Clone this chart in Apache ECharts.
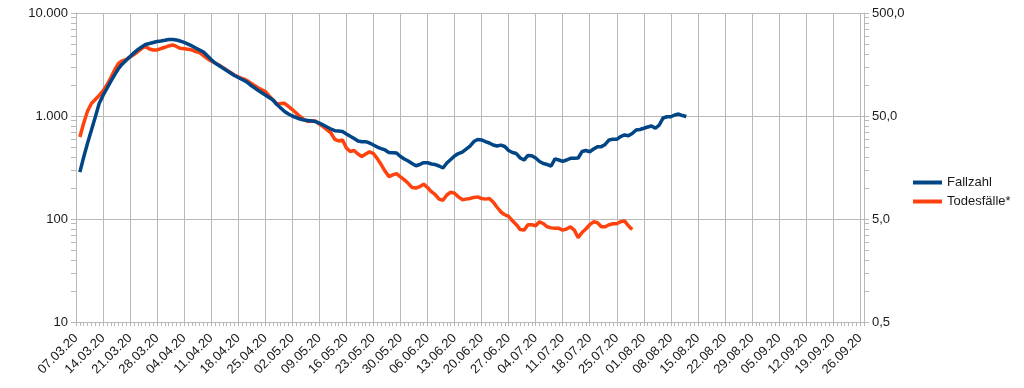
<!DOCTYPE html>
<html><head><meta charset="utf-8">
<script src="https://cdn.jsdelivr.net/npm/echarts@6/dist/echarts.min.js"></script>
<style>html,body{margin:0;padding:0;background:#fff}#c{width:1024px;height:388px}</style>
</head><body><div id="c"></div>
<script>
// Category axis: daily dates 07.03.20 .. 27.09.20
const dayCount = 205;
const categories = [];
for (let i = 0; i < dayCount; i++) {
  const d = new Date(Date.UTC(2020, 2, 7 + i));
  const dd = String(d.getUTCDate()).padStart(2, '0');
  const mm = String(d.getUTCMonth() + 1).padStart(2, '0');
  categories.push(dd + '.' + mm + '.20');
}

const seriesNames = ['Fallzahl', 'Todesfälle*'];

// Fallzahl (left axis), daily from 08.03.20
const casesStart = '08.03.20';
const fallzahl = [
  285,400,547,731,978,1322,1585,1849,2163,2506,
  2885,3198,3483,3784,4100,4405,4677,4946,5058,5175,
  5285,5346,5433,5534,5534,5470,5346,5175,4977,4786,
  4571,4375,4180,3837,3530,3270,3092,2924,2766,2614,
  2472,2365,2261,2163,2023,1904,1788,1691,1599,1512,
  1430,1293,1196,1106,1045,1000,967,935,914,904,
  894,884,855,818,782,748,720,715,707,669,
  635,605,572,563,563,547,523,500,483,468,
  442,440,437,404,383,366,346,329,338,352,
  352,342,338,327,313,350,378,409,432,447,
  478,511,565,591,585,565,547,523,511,521,
  506,462,442,432,391,374,414,411,391,362,
  346,338,327,383,374,362,374,388,388,391,
  452,462,450,478,504,504,529,585,594,594,
  632,654,642,676,731,739,760,782,800,760,
  818,957,984,984,1023,1045,1011,989
];

// Todesfälle* (right axis), daily from 08.03.20
const deathsStart = '08.03.20';
const todesfaelle = [
  31.3,42.8,55.9,66.1,72.3,79.1,87.5,100,117.5,139.8,
  161.7,171.8,176.9,187.0,197.7,211.4,226.0,236.5,223.5,218.8,
  218.8,226.0,232.3,239.3,244.6,236.5,227.0,224.9,222.8,218.8,
  211.4,205.9,193.3,180.8,171.0,163.5,156.4,147.8,139.8,132.2,
  125.0,120.2,115.6,111.9,105.8,100,94.6,90.4,86.5,78.2,
  71.5,65.4,66.1,66.4,61.9,57.8,53.5,49.5,46.2,44.2,
  44.7,44.7,41.8,39.4,36.6,34.2,29.6,28.6,29.2,24.5,
  22.6,23.1,21.4,20.2,21.4,22.5,21.6,19.3,16.9,14.6,
  12.9,13.4,13.8,12.8,12.0,11.1,10.1,10.0,10.3,10.9,
  10.1,9.2,8.6,7.8,7.6,8.55,9.1,8.9,8.2,7.7,
  7.8,7.9,8.1,8.2,7.9,7.8,7.9,7.3,6.5,5.85,
  5.5,5.3,4.8,4.4,3.95,3.9,4.4,4.4,4.3,4.7,
  4.5,4.2,4.1,4.06,4.06,3.9,4.0,4.2,3.9,3.3,
  3.7,4.0,4.4,4.7,4.6,4.2,4.2,4.4,4.5,4.5,
  4.7,4.8,4.3,3.95
];

const leftTickLabels = ['10', '100', '1.000', '10.000'];
const rightTickLabels = ['0,5', '5,0', '50,0', '500,0'];

function place(startCat, values) {
  const arr = new Array(categories.length).fill(null);
  const s = categories.indexOf(startCat);
  values.forEach((v, k) => { arr[s + k] = v; });
  return arr;
}

// log-spaced tick positions for the decade label axes
function logTicks(firstDecade, decades) {
  const t = [];
  for (let n = 0; n < decades; n++) {
    for (let k = 1; k <= 9; k++) t.push(+(firstDecade + n + Math.log10(k)).toFixed(5));
  }
  t.push(firstDecade + decades);
  return t;
}

const gridCol = '#b8b8b8';
const txt = { color: '#1a1a1a', fontFamily: 'Liberation Sans', fontSize: 13 };

const chart = echarts.init(document.getElementById('c'), null, { renderer: 'canvas' });
chart.setOption({
  animation: false,
  backgroundColor: '#ffffff',
  textStyle: { fontFamily: 'Liberation Sans' },
  grid: { left: 76, right: 160, top: 13, bottom: 66, containLabel: false },
  legend: {
    orient: 'vertical', left: 908, top: 171,
    icon: 'rect', itemWidth: 29, itemHeight: 4, itemGap: 6,
    textStyle: { color: '#1a1a1a', fontFamily: 'Liberation Sans', fontSize: 13 },
    data: seriesNames
  },
  xAxis: {
    type: 'category', data: categories, boundaryGap: false,
    axisLine: { lineStyle: { color: gridCol } },
    axisTick: { show: true, interval: 0, length: 4, lineStyle: { color: gridCol } },
    axisLabel: Object.assign({ interval: 6, rotate: 45, margin: 14 }, txt),
    splitLine: { show: true, interval: 6, lineStyle: { color: gridCol, width: 1 } }
  },
  yAxis: [
    {
      type: 'log', logBase: 10, min: 10, max: 10000, position: 'left',
      axisLine: { show: false }, axisTick: { show: false }, axisLabel: { show: false },
      splitLine: { show: true, lineStyle: { color: gridCol, width: 1 } }
    },
    { type: 'log', logBase: 10, min: 0.5, max: 500, position: 'right', show: false },
    {
      type: 'value', min: 1, max: 4, interval: 1, position: 'left',
      axisLine: { show: true, lineStyle: { color: gridCol } },
      axisTick: { show: true, length: 5, customValues: logTicks(1, 3), lineStyle: { color: gridCol } },
      axisLabel: Object.assign({ margin: 8, formatter: v => leftTickLabels[Math.round(v) - 1] }, txt),
      splitLine: { show: false }
    },
    {
      type: 'value', min: 0, max: 3, interval: 1, position: 'right',
      axisLine: { show: true, lineStyle: { color: gridCol } },
      axisTick: { show: true, length: 5, customValues: logTicks(0, 3), lineStyle: { color: gridCol } },
      axisLabel: Object.assign({ margin: 8, formatter: v => rightTickLabels[Math.round(v)] }, txt),
      splitLine: { show: false }
    }
  ],
  series: [
    {
      name: seriesNames[0], type: 'line', yAxisIndex: 0,
      data: place(casesStart, fallzahl), showSymbol: false, symbol: 'none',
      lineStyle: { color: '#004586', width: 3.5 }, itemStyle: { color: '#004586' }, z: 3
    },
    {
      name: seriesNames[1], type: 'line', yAxisIndex: 1,
      data: place(deathsStart, todesfaelle), showSymbol: false, symbol: 'none',
      lineStyle: { color: '#ff420e', width: 3.5 }, itemStyle: { color: '#ff420e' }, z: 2
    }
  ]
});
</script>
</body></html>
